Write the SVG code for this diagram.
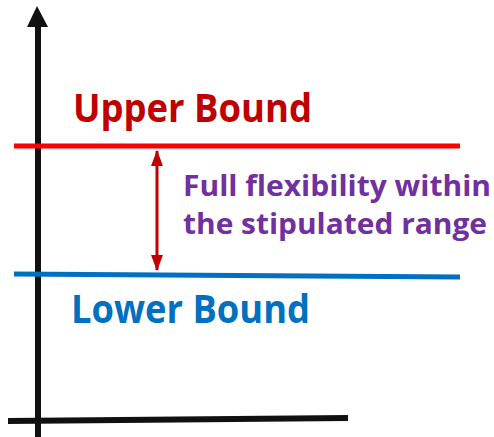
<svg xmlns="http://www.w3.org/2000/svg" width="494" height="437" viewBox="0 0 494 437">
<defs>
<style>
text{font-family:"Open Sans","Noto Sans","Liberation Sans",sans-serif;font-weight:bold}
.axis{stroke:#111;stroke-width:6;fill:none}
</style>
<marker id="ah" viewBox="0 0 16 12" refX="15" refY="6" markerWidth="5.3" markerHeight="4" orient="auto-start-reverse" markerUnits="strokeWidth">
<path d="M0,0 L16,6 L0,12 z" fill="#C00000"/>
</marker>
</defs>
<rect width="494" height="437" fill="#fff"/>
<g id="axes">
<line class="axis" x1="38" y1="24" x2="38" y2="437"/>
<path d="M37,6 L27,27 L48,27 z" fill="#111"/>
<line class="axis" x1="8" y1="421" x2="348" y2="418"/>
</g>
<g id="upper-bound">
<line x1="14" y1="146" x2="460" y2="146" stroke="#FF0000" stroke-width="5"/>
<text x="73" y="122" font-size="40" fill="#C00000" textLength="239" lengthAdjust="spacingAndGlyphs">Upper Bound</text>
</g>
<g id="lower-bound">
<line x1="14" y1="274" x2="460" y2="277" stroke="#0070C0" stroke-width="5"/>
<text x="71" y="323" font-size="40" fill="#0070C0" textLength="239" lengthAdjust="spacingAndGlyphs">Lower Bound</text>
</g>
<g id="connectors">
<line x1="157" y1="151" x2="157" y2="270" stroke="#C00000" stroke-width="3" marker-start="url(#ah)" marker-end="url(#ah)"/>
</g>
<g id="range-label">
<text x="183" y="196" font-size="29" fill="#7030A0" textLength="308" lengthAdjust="spacingAndGlyphs">Full flexibility within</text>
<text x="183" y="234" font-size="29" fill="#7030A0" textLength="304" lengthAdjust="spacingAndGlyphs">the stipulated range</text>
</g>
</svg>
